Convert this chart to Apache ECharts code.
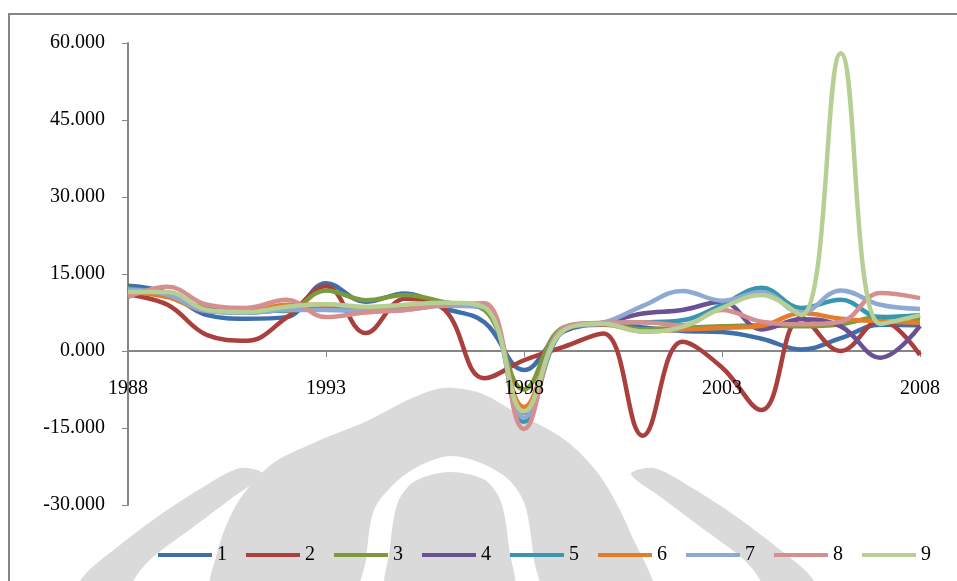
<!DOCTYPE html>
<html>
<head>
<meta charset="utf-8">
<script src="https://cdn.jsdelivr.net/npm/echarts@6/dist/echarts.min.js"></script>
<style>
  html, body { margin: 0; padding: 0; background: #ffffff; }
  #chart { width: 957px; height: 581px; }
</style>
</head>
<body>
<div id="chart"></div>
<script>
// Years on the category axis
const years = ['1988','1989','1990','1991','1992','1993','1994','1995','1996','1997','1998',
               '1999','2000','2001','2002','2003','2004','2005','2006','2007','2008'];

// Series values per year
const s1 = [12.7, 11.3, 7.0, 6.3, 6.6, 13.2, 9.6, 11.2, 8.3, 5.6, -3.7, 3.8, 5.1, 4.6, 3.9, 3.7, 2.4, 0.3, 2.5, 5.1, 5.0];
const s2 = [11.0, 9.0, 3.1, 2.0, 6.5, 12.6, 3.5, 10.2, 8.0, -5.3, -1.8, 0.8, 3.4, -16.5, 1.8, -3.2, -11.5, 6.5, 0.0, 6.0, -0.8];
const s3 = [12.2, 11.0, 8.4, 8.2, 7.8, 11.8, 9.9, 10.9, 9.5, 8.0, -7.5, 4.6, 5.4, 4.2, 4.5, 4.8, 5.0, 4.8, 5.2, 6.6, 6.2];
const s4 = [12.0, 11.0, 8.0, 7.8, 8.5, 8.5, 8.0, 8.5, 9.0, 8.5, -12.0, 4.4, 5.5, 7.3, 8.0, 9.6, 4.2, 6.2, 4.8, -1.3, 4.9];
const s5 = [12.0, 11.0, 7.8, 7.5, 8.0, 8.2, 7.8, 8.5, 9.0, 8.5, -13.8, 4.0, 5.4, 5.6, 6.0, 9.0, 12.3, 8.4, 10.0, 6.6, 7.0];
const s6 = [11.5, 10.5, 7.8, 7.6, 9.0, 9.0, 8.5, 8.8, 9.2, 8.5, -10.9, 4.0, 5.2, 3.8, 4.2, 4.5, 4.9, 7.4, 6.3, 5.8, 5.5];
const s7 = [12.0, 11.0, 7.8, 7.5, 8.0, 8.0, 7.8, 8.0, 8.8, 8.5, -13.0, 4.5, 5.5, 8.8, 11.7, 9.8, 11.5, 7.5, 11.8, 9.0, 8.2];
const s8 = [10.5, 12.5, 9.0, 8.4, 10.0, 6.6, 7.5, 8.0, 9.0, 9.3, -15.2, 4.5, 5.5, 5.6, 5.0, 8.0, 5.7, 5.2, 5.7, 11.3, 10.3];
const s9 = [11.5, 11.5, 8.0, 7.6, 8.6, 9.1, 8.6, 9.0, 9.4, 8.5, -11.8, 4.0, 5.3, 3.8, 4.7, 8.4, 10.9, 7.0, 58.0, 5.3, 7.0];

const seriesNames = ['1','2','3','4','5','6','7','8','9'];
const seriesValues = [s1, s2, s3, s4, s5, s6, s7, s8, s9];
const palette = ['#3F6FAA', '#A9403D', '#7B9A3C', '#6B5093', '#3897AF', '#E27D2C', '#8EA9D3', '#D48F8E', '#B6CF94'];

const yTicks = { min: -30, max: 60, step: 15 };

const serif = 'Liberation Serif, Times New Roman, serif';
const axisGray = '#868686';
const markGray = '#DADADA';

const gridTop = 43, gridBottom = 76, chartH = 581;
// plot height and the pixel offset that lifts the category axis onto the zero line
const plotH = chartH - gridTop - gridBottom;
const zeroLift = plotH * (0 - yTicks.min) / (yTicks.max - yTicks.min);

// Faint background emblem behind the plot (decorative outline shapes)
const emblemDome = [[214,600],[218,550],[238,502],[272,464],[318,441],[367,421],[410,399],[443,388],[480,393],[515,412],[565,440],[600,476],[630,532],[650,600]];
const emblemGap = [[362,600],[366,560],[374,510],[396,482],[421,465],[450,456],[481,463],[509,480],[525,505],[534,560],[538,600]];
const emblemCore = [[388,600],[390,548],[398,502],[415,481],[450,472],[485,480],[501,502],[509,548],[512,600]];
const emblemWingL = [[78,600],[82,578],[120,545],[160,515],[200,489],[240,468],[263,474],[232,498],[192,528],[152,558],[134,580],[130,600]];
const emblemWingR = emblemWingL.map(p => [894 - p[0], p[1]]);

const emblem = [
  { pts: emblemWingL, fill: markGray },
  { pts: emblemWingR, fill: markGray },
  { pts: emblemDome, fill: markGray },
  { pts: emblemGap, fill: '#ffffff' },
  { pts: emblemCore, fill: markGray }
].map((e, k) => ({
  type: 'polygon',
  silent: true,
  z: -20 + k,
  shape: { points: e.pts, smooth: 0.3 },
  style: { fill: e.fill }
}));

const xAxisBase = {
  type: 'category',
  data: years,
  boundaryGap: false,
  position: 'bottom',
  offset: -zeroLift,
  splitLine: { show: false }
};

const chart = echarts.init(document.getElementById('chart'), null, { renderer: 'canvas' });

chart.setOption({
  backgroundColor: '#ffffff',
  animation: false,
  color: palette,
  graphic: emblem.concat([{
    type: 'rect',
    silent: true,
    z: -10,
    shape: { x: 9, y: 14, width: 1000, height: 620 },
    style: { fill: 'none', stroke: axisGray, lineWidth: 2 }
  }]),
  grid: { left: 128, right: 37, top: gridTop, bottom: gridBottom, containLabel: false },
  legend: {
    left: 158,
    top: 545,
    padding: 0,
    icon: 'rect',
    itemWidth: 54,
    itemHeight: 4,
    itemGap: 19,
    textStyle: { fontFamily: serif, fontSize: 20, color: '#000000', padding: [0, 0, 0, 0] },
    data: seriesNames
  },
  xAxis: [
    // axis line and ticks, drawn beneath the series
    Object.assign({}, xAxisBase, {
      axisLine: { onZero: false, lineStyle: { color: axisGray, width: 2 } },
      axisTick: { show: true, interval: 4, length: 6, lineStyle: { color: axisGray, width: 1 } },
      axisLabel: { show: false }
    }),
    // year labels, drawn above the series
    Object.assign({}, xAxisBase, {
      z: 20,
      axisLine: { show: false, onZero: false },
      axisTick: { show: false },
      axisLabel: { interval: 4, margin: 28, fontFamily: serif, fontSize: 20, color: '#000000' }
    })
  ],
  yAxis: {
    type: 'value',
    min: yTicks.min,
    max: yTicks.max,
    interval: yTicks.step,
    axisLine: { show: true, lineStyle: { color: axisGray, width: 2 } },
    axisTick: { show: true, length: 6, lineStyle: { color: axisGray, width: 1 } },
    axisLabel: {
      margin: 23,
      fontFamily: serif,
      fontSize: 20,
      color: '#000000',
      formatter: v => v.toFixed(3)
    },
    splitLine: { show: false }
  },
  series: seriesNames.map((name, i) => ({
    name: name,
    type: 'line',
    xAxisIndex: 0,
    data: seriesValues[i],
    smooth: 0.4,
    showSymbol: false,
    symbol: 'none',
    lineStyle: { width: 4.5, color: palette[i] },
    itemStyle: { color: palette[i] },
    z: 2 + i
  }))
});
</script>
</body>
</html>
